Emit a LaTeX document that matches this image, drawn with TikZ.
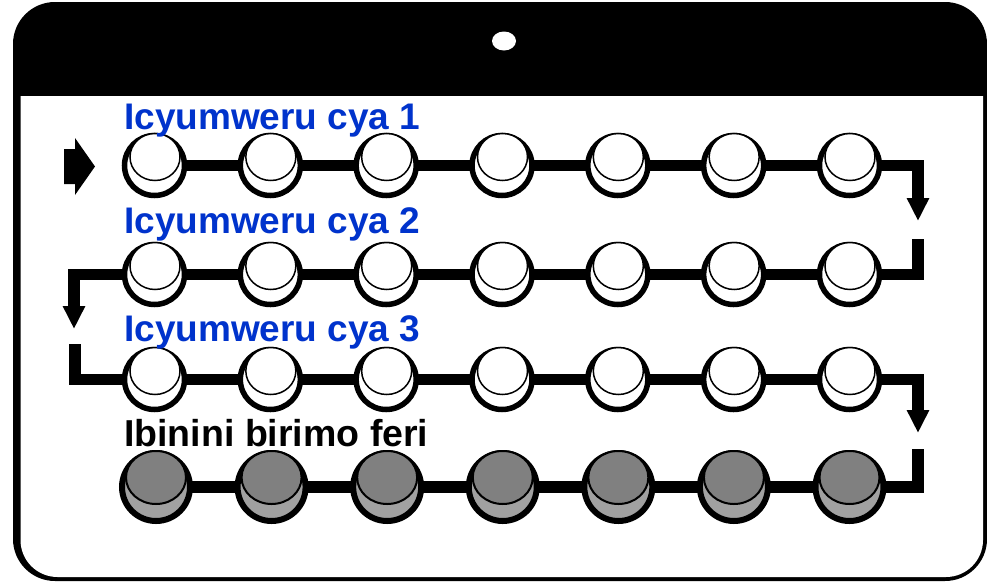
\documentclass[tikz,border=0pt]{standalone}
\usepackage{fontspec}
\setmainfont{Liberation Sans}
\usetikzlibrary{shapes.geometric,arrows.meta,backgrounds}
\definecolor{lblblue}{HTML}{0033CC}
\tikzset{
  bead/.style={circle,draw=black,fill=white,line width=5.5pt,minimum size=60pt,inner sep=0pt},
  beadtop/.style={ellipse,draw=black,fill=white,line width=1.5pt,minimum width=50pt,minimum height=47pt,inner sep=0pt},
  darkbead/.style={circle,draw=black,fill=black!37,line width=6pt,minimum size=68pt,inner sep=0pt},
  darktop/.style={ellipse,draw=black,fill=black!50,line width=2pt,minimum width=60pt,minimum height=53pt,inner sep=0pt},
  link/.style={line width=11.5pt,draw=black},
  flow/.style={link,-{Triangle[width=21pt,length=23pt]}},
  lbl/.style={anchor=base west,inner sep=0pt,font=\fontsize{37pt}{40pt}\selectfont\bfseries},
}
\begin{document}
\begin{tikzpicture}[x=1pt,y=-1pt]
\useasboundingbox (0,0) rectangle (987,581);
% beads
\foreach \r/\y in {1/165.5,2/274.5,3/379.5}{
  \foreach \c in {1,...,7}{
    \pgfmathsetmacro{\xx}{154.5+(\c-1)*115.83}
    \node[bead] (r\r c\c) at (\xx,\y) {};
  }
}
\foreach \c in {1,...,7}{
  \pgfmathsetmacro{\xx}{156+(\c-1)*115.58}
  \node[darkbead] (r4c\c) at (\xx,487) {};
}
\coordinate (a1) at (918,221);
\coordinate (s2) at (918,239);
\coordinate (a2) at (74,329);
\coordinate (s3) at (75,344);
\coordinate (a3) at (918,433);
\coordinate (s4) at (918,449);
\begin{scope}[on background layer]
\fill[white] (0,0) rectangle (987,581);
\fill[black,rounded corners=42pt] (13,2) rectangle (987,581);
\fill[white] (20.5,96) -- (983,96) -- (983,540) arc[start angle=0,end angle=90,radius=37] -- (57.5,577) arc[start angle=90,end angle=180,radius=37] -- cycle;
\foreach \r in {1,2,3,4}{
  \foreach \c/\e in {1/2,2/3,3/4,4/5,5/6,6/7}{
    \draw[link] (r\r c\c.center) -- (r\r c\e.center);
  }
}
\draw[flow] (r1c7.center) -| (a1);
\draw[link] (r2c7.center) -| (s2);
\draw[flow] (r2c1.center) -| (a2);
\draw[link] (r3c1.center) -| (s3);
\draw[flow] (r3c7.center) -| (a3);
\draw[link] (r4c7.center) -| (s4);
\end{scope}
\fill[white] (504,41) ellipse[x radius=12,y radius=9.5];
% start arrow
\fill[black] (64,149) -- (75,149) -- (75,138) -- (95,166.5) -- (75,195) -- (75,184) -- (64,184) -- cycle;
% bead caps
\foreach \r/\y in {1/157,2/266,3/371}{
  \foreach \c in {1,...,7}{
    \pgfmathsetmacro{\xx}{155+(\c-1)*115.83}
    \node[beadtop] (t\r c\c) at (\xx,\y) {};
  }
}
\foreach \c in {1,...,7}{
  \pgfmathsetmacro{\xx}{156+(\c-1)*115.58}
  \node[darktop] (t4c\c) at (\xx,477.5) {};
}
% labels
\node[lbl,text=lblblue] (l1) at (124,129) {Icyumweru cya 1};
\node[lbl,text=lblblue] (l2) at (124,233) {Icyumweru cya 2};
\node[lbl,text=lblblue] (l3) at (124,341) {Icyumweru cya 3};
\node[lbl,text=black,font=\fontsize{37.5pt}{40pt}\selectfont\bfseries] (l4) at (124,446) {Ibinini birimo feri};
\end{tikzpicture}
\end{document}
